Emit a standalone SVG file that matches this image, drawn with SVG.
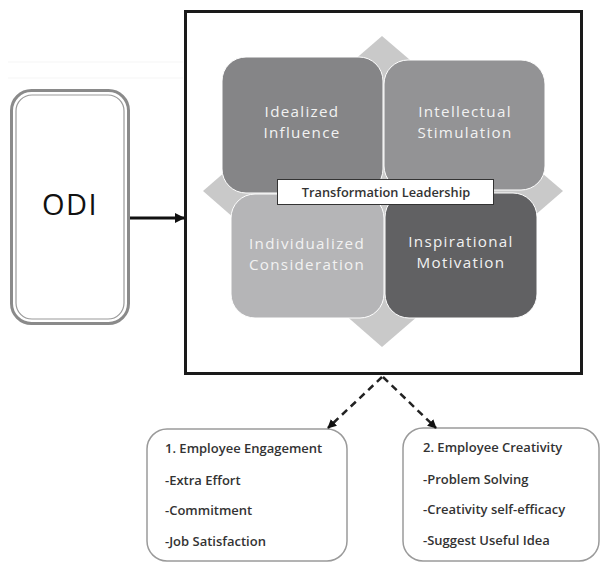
<svg xmlns="http://www.w3.org/2000/svg" width="601" height="563" viewBox="0 0 601 563">
<defs>
<style>
.q{font-family:"Open Sans","Liberation Sans",sans-serif;font-size:15.2px;fill:#f2f2f2;text-anchor:middle;letter-spacing:1.3px}
.b{font-family:"Open Sans","Liberation Sans",sans-serif;font-size:13px;font-weight:600;fill:#333}
.box{fill:#fff;stroke:#9a9a9a;stroke-width:1.5}
.dash{fill:none;stroke:#222;stroke-width:2.5;stroke-dasharray:7,5}
</style>
<marker id="ah" viewBox="0 0 10 10" refX="9" refY="5" markerWidth="10" markerHeight="10" markerUnits="userSpaceOnUse" orient="auto">
<path d="M0,0 L10,5 L0,10 z" fill="#111"/>
</marker>
<marker id="ah2" viewBox="0 0 10 10" refX="9" refY="5" markerWidth="9" markerHeight="9" markerUnits="userSpaceOnUse" orient="auto">
<path d="M0,0 L10,5 L0,10 z" fill="#111"/>
</marker>
</defs>
<rect width="601" height="563" fill="#fff"/>
<line x1="8" y1="62" x2="183" y2="62" stroke="#f5f5f5" stroke-width="1"/>
<line x1="8" y1="78" x2="183" y2="78" stroke="#f5f5f5" stroke-width="1"/>

<g id="odi">
<rect x="11.5" y="90.5" width="117" height="233" rx="20" fill="#fff" stroke="#8a8a8a" stroke-width="3"/>
<rect x="16" y="95" width="108" height="224" rx="16" fill="#fff" stroke="#9a9a9a" stroke-width="1.2"/>
<text x="70" y="215" font-family="'Open Sans','Liberation Sans',sans-serif" font-size="29" letter-spacing="1.5" fill="#111" text-anchor="middle">ODI</text>
</g>

<g id="leadership">
<rect x="185.5" y="11.5" width="396" height="362" fill="#fff" stroke="#1a1a1a" stroke-width="3"/>
<polygon points="382,36 563,191 382,347 203,191" fill="#c9c9c9"/>
<g id="idealized">
<rect x="222" y="57" width="161" height="136" rx="24" fill="#858587" stroke="#fff" stroke-width="1"/>
<text class="q" x="302" y="117">Idealized</text>
<text class="q" x="302" y="138">Influence</text>
</g>
<g id="intellectual">
<rect x="384" y="60" width="161" height="130" rx="24" fill="#939395" stroke="#fff" stroke-width="1"/>
<text class="q" x="465" y="117">Intellectual</text>
<text class="q" x="465" y="138">Stimulation</text>
</g>
<g id="individualized">
<rect x="231" y="194" width="153" height="124" rx="24" fill="#b5b5b7" stroke="#fff" stroke-width="1"/>
<text class="q" x="307" y="249">Individualized</text>
<text class="q" x="307" y="270">Consideration</text>
</g>
<g id="inspirational">
<rect x="385" y="193" width="152" height="125" rx="24" fill="#616163" stroke="#fff" stroke-width="1"/>
<text class="q" x="461" y="247">Inspirational</text>
<text class="q" x="461" y="268">Motivation</text>
</g>
<g id="transformation">
<rect x="277.5" y="179.5" width="216" height="25" fill="#fff" stroke="#333" stroke-width="1"/>
<text x="386" y="197" font-family="'Open Sans','Liberation Sans',sans-serif" font-size="12.8" font-weight="600" fill="#333" text-anchor="middle">Transformation Leadership</text>
</g>
</g>

<g id="engagement">
<rect class="box" x="147" y="429" width="200" height="132" rx="20"/>
<text class="b" x="165" y="453">1. Employee Engagement</text>
<text class="b" x="165" y="485">-Extra Effort</text>
<text class="b" x="165" y="515">-Commitment</text>
<text class="b" x="165" y="546">-Job Satisfaction</text>
</g>

<g id="creativity">
<rect class="box" x="403" y="428" width="196" height="133" rx="20"/>
<text class="b" x="423" y="452">2. Employee Creativity</text>
<text class="b" x="423" y="484">-Problem Solving</text>
<text class="b" x="423" y="514">-Creativity self-efficacy</text>
<text class="b" x="423" y="545">-Suggest Useful Idea</text>
</g>

<g id="connectors">
<line x1="130" y1="218" x2="184" y2="218" stroke="#111" stroke-width="3" marker-end="url(#ah)"/>
<line class="dash" x1="382" y1="377" x2="328" y2="428" marker-end="url(#ah2)"/>
<line class="dash" x1="383" y1="377" x2="436" y2="428" marker-end="url(#ah2)"/>
</g>
</svg>
